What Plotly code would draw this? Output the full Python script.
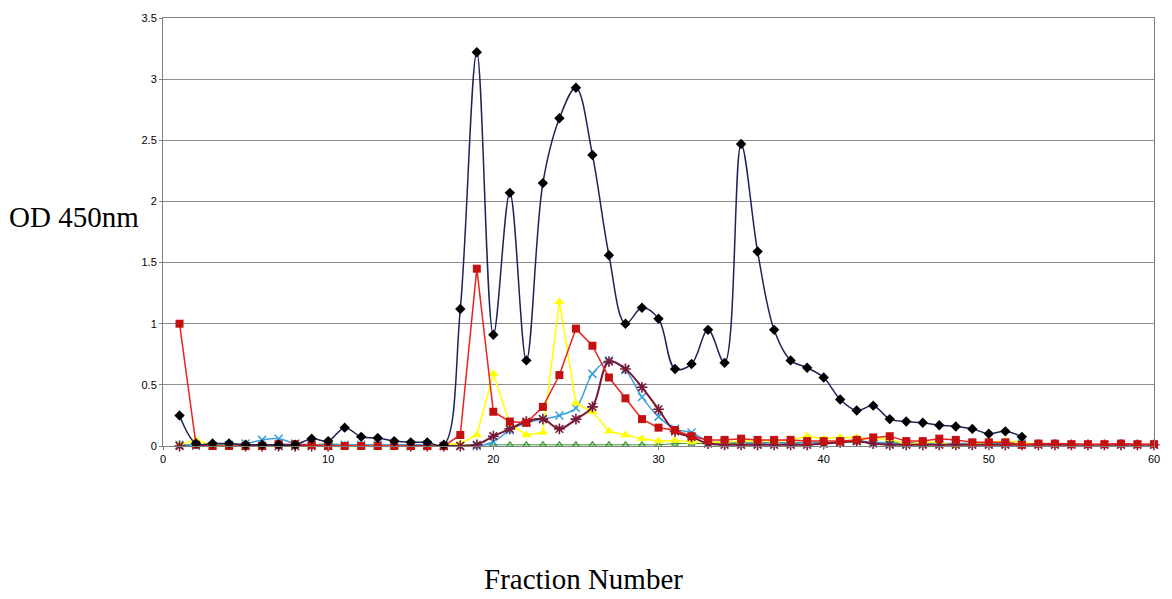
import plotly.graph_objects as go

fractions = list(range(1, 61))

black = [0.25, 0.02, 0.02, 0.02, 0.01, 0.01, 0.01, 0.01, 0.06, 0.04,
         0.15, 0.075, 0.065, 0.04, 0.03, 0.03, 0.01, 1.12, 3.22, 0.91,
         2.07, 0.70, 2.15, 2.68, 2.93, 2.38, 1.56, 1.00, 1.13, 1.04,
         0.63, 0.67, 0.95, 0.68, 2.47, 1.59, 0.95, 0.70, 0.64, 0.56,
         0.38, 0.29, 0.33, 0.22, 0.20, 0.19, 0.17, 0.16, 0.14, 0.10,
         0.12, 0.075] + [None] * 8

red = [1.00, 0.01, 0.00, 0.00, 0.00, 0.00, 0.015, 0.015, 0.01, 0.00,
       0.00, 0.00, 0.00, 0.00, 0.00, 0.00, 0.00, 0.09, 1.45, 0.28,
       0.20, 0.19, 0.32, 0.58, 0.96, 0.82, 0.56, 0.39, 0.22, 0.15,
       0.13, 0.08, 0.05, 0.05, 0.06, 0.05, 0.05, 0.05, 0.04, 0.04,
       0.04, 0.05, 0.07, 0.08, 0.04, 0.04, 0.06, 0.05, 0.03, 0.03,
       0.03, 0.01, 0.02, 0.02, 0.015, 0.015, 0.015, 0.02, 0.015, 0.015]

yellow = [0.01, 0.05, 0.00, 0.00, 0.00, 0.00, 0.00, 0.00, 0.00, 0.00,
          0.00, 0.00, 0.00, 0.00, 0.00, 0.00, 0.01, 0.02, 0.09, 0.59,
          0.18, 0.09, 0.11, 1.18, 0.35, 0.28, 0.12, 0.09, 0.06, 0.04,
          0.045, 0.035, 0.03, 0.03, 0.04, 0.04, 0.04, 0.05, 0.08, 0.06,
          0.07, 0.07, 0.06, 0.06, 0.01, 0.03, 0.03, 0.00, 0.02, 0.03,
          0.04, 0.03, 0.01] + [None] * 7

lightblue = [0.01, 0.00, 0.00, 0.01, 0.02, 0.05, 0.06, 0.02, 0.01, 0.01,
             0.01, 0.01, 0.01, 0.01, 0.01, 0.01, 0.00, 0.00, 0.00, 0.035,
             0.13, 0.19, 0.22, 0.25, 0.31, 0.59, 0.70, 0.62, 0.40, 0.24,
             0.14, 0.11, 0.04, 0.03, 0.03, 0.02, 0.03, 0.02, 0.03, 0.02,
             0.03, 0.04, 0.03, 0.02, 0.02, 0.02, 0.02, 0.02, 0.02, 0.02,
             0.02, 0.02] + [None] * 8

maroon = [0.00, -0.01, -0.01, -0.01, 0.00, 0.00, 0.00, 0.00, 0.00, 0.00,
          -0.01, -0.01, -0.01, -0.01, 0.00, 0.00, 0.00, 0.00, 0.01, 0.08,
          0.14, 0.20, 0.22, 0.14, 0.22, 0.32, 0.69, 0.63, 0.48, 0.30,
          0.12, 0.075, 0.02, 0.01, 0.01, 0.01, 0.01, 0.01, 0.01, 0.02,
          0.03, 0.04, 0.02, 0.01, 0.01, 0.01, 0.01, 0.01, 0.01, 0.01,
          0.01, 0.01, 0.01, 0.01, 0.01, 0.01, 0.01, 0.01, 0.01, 0.01]

green = [0.01, 0.01, 0.01, 0.01, 0.01, 0.01, 0.01, 0.01, 0.01, 0.02,
         0.01, 0.01, 0.01, 0.01, 0.01, 0.01, 0.01, 0.01, 0.01, 0.01,
         0.01, 0.01, 0.01, 0.01, 0.01, 0.01, 0.01, 0.01, 0.01, 0.01,
         0.02, 0.02, 0.02, 0.02, 0.02, 0.03, 0.03, 0.03, 0.03, 0.03,
         0.03, 0.03, 0.03, 0.03, 0.03, 0.02, 0.02, 0.02, 0.02, 0.02,
         0.03, 0.02] + [None] * 8

x_ticks = [0, 10, 20, 30, 40, 50, 60]
y_ticks = [0, 0.5, 1, 1.5, 2, 2.5, 3, 3.5]
y_tick_text = ["0", "0.5", "1", "1.5", "2", "2.5", "3", "3.5"]

fig = go.Figure()

def add(y, line_color, marker_color, symbol, shape, size=8, mline=None, lw=1.5):
    fig.add_trace(go.Scatter(
        x=fractions, y=y, mode="lines+markers", cliponaxis=False,
        line=dict(color=line_color, width=lw, shape=shape, smoothing=1.0),
        marker=dict(symbol=symbol, color=marker_color, size=size,
                    line=mline or dict(width=0)),
        showlegend=False, connectgaps=False))

add(green, "#3a9a3a", "#3a9a3a", "triangle-up-open", "linear", size=6,
    mline=dict(color="#3a9a3a", width=1.2), lw=1.0)
add(lightblue, "#3aa0dc", "#3aa0dc", "x-thin-open", "spline", size=8,
    mline=dict(color="#3aa0dc", width=1.5))
add(yellow, "#ffff00", "#ffff00", "triangle-up", "linear", size=9)
add(maroon, "#7a1838", "#7a1838", "asterisk-open", "spline", size=9,
    mline=dict(color="#7a1838", width=1.6), lw=2)
add(red, "#e8231c", "#c41010", "square", "linear", size=8)
add(black, "#1c2358", "#000000", "diamond", "spline", size=8)

fig.update_layout(
    width=1172, height=599,
    margin=dict(l=163, r=15, t=14, b=153),
    paper_bgcolor="white", plot_bgcolor="white",
    font=dict(family="Liberation Sans, Arial", size=11, color="black"),
    xaxis=dict(range=[0, 60], tickvals=x_ticks, showgrid=False,
               showline=True, linecolor="#808080", linewidth=1, mirror=True,
               ticks="outside", ticklen=3, tickcolor="#808080",
               zeroline=False, tickfont=dict(size=11)),
    yaxis=dict(range=[0, 3.5], tickvals=y_ticks, ticktext=y_tick_text,
               showgrid=True, gridcolor="#8c8c8c", gridwidth=1,
               showline=True, linecolor="#808080", linewidth=1, mirror=True,
               ticks="outside", ticklen=3, tickcolor="#808080",
               zeroline=False, tickfont=dict(size=11)),
    annotations=[
        dict(text="OD 450nm", xref="paper", yref="paper", x=-0.0895, y=0.535,
             xanchor="center", yanchor="middle", showarrow=False,
             font=dict(family="Liberation Serif, Times New Roman", size=29)),
        dict(text="Fraction Number", xref="paper", yref="paper", x=0.4245,
             y=-0.31, xanchor="center", yanchor="middle", showarrow=False,
             font=dict(family="Liberation Serif, Times New Roman", size=29)),
    ],
)

fig.write_html("out.html")
